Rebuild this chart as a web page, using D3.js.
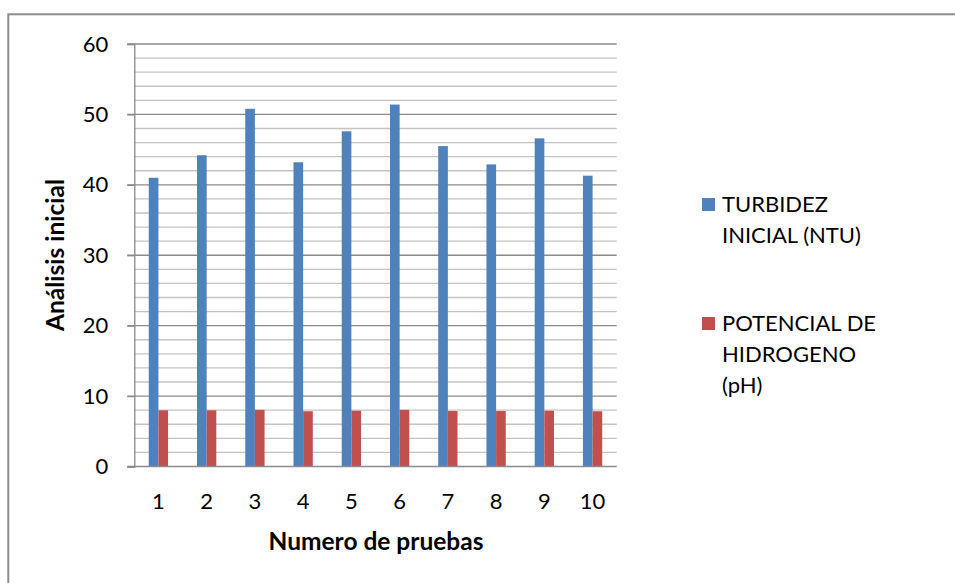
<!DOCTYPE html>
<html><head><meta charset="utf-8">
<script src="https://cdn.jsdelivr.net/npm/d3@7"></script>
<style>body{margin:0;background:#fff}svg{display:block;font-family:Lato,"Liberation Sans",sans-serif}</style>
</head><body>
<script>
const categories = ["1","2","3","4","5","6","7","8","9","10"];
const turbidez = [41.0, 44.2, 50.8, 43.2, 47.6, 51.4, 45.5, 42.9, 46.6, 41.3];
const ph = [7.98, 7.98, 8.05, 7.85, 7.92, 8.05, 7.88, 7.88, 7.92, 7.85];
const seriesNames = ["TURBIDEZ INICIAL (NTU)", "POTENCIAL DE HIDROGENO (pH)"];
const legendLines = [["TURBIDEZ","INICIAL (NTU)"],["POTENCIAL DE","HIDROGENO","(pH)"]];
const colors = ["#4F81BD", "#C0504D"];
const yTicks = [0,10,20,30,40,50,60];

(function(){
const W = 955, H = 583;
const FS = 22, TFS = 24.5;
const svg = d3.select("body").append("svg").attr("width", W).attr("height", H);

svg.append("rect").attr("x", 8.3).attr("y", 14.3).attr("width", 1000).attr("height", 1000)
  .attr("fill", "none").attr("stroke", "#8c8c8c").attr("stroke-width", 2);

const pLeft = 134.3, pRight = 616.7, pTop = 44, pBottom = 466.5;
const y = d3.scaleLinear().domain([0, 60]).range([pBottom, pTop]);
const x0 = d3.scaleBand().domain(categories).range([pLeft, pRight]).paddingInner(0.6).paddingOuter(0.3);
const x1 = d3.scaleBand().domain([0,1]).range([0, x0.bandwidth()]);

// minor gridlines
const minor = d3.range(2, 60, 2).filter(v => v % 10 !== 0);
svg.append("g").selectAll("line").data(minor).join("line")
  .attr("x1", pLeft).attr("x2", pRight).attr("y1", d => y(d)).attr("y2", d => y(d))
  .attr("stroke", "#c4c4c4").attr("stroke-width", 1.3);
// major gridlines
svg.append("g").selectAll("line").data(yTicks.filter(v => v > 0)).join("line")
  .attr("x1", pLeft - 7).attr("x2", pRight).attr("y1", d => y(d)).attr("y2", d => y(d))
  .attr("stroke", "#8a8a8a").attr("stroke-width", 1.3);

// y axis
const yAxis = d3.axisLeft(y).tickValues(yTicks).tickSize(7).tickPadding(19);
const gy = svg.append("g").attr("transform", `translate(${pLeft},0)`).call(yAxis);
gy.select(".domain").attr("stroke", "#8a8a8a").attr("stroke-width", 1.3);
gy.selectAll(".tick line").attr("stroke", "#8a8a8a").attr("stroke-width", 1.3);
gy.selectAll(".tick text").attr("font-size", FS).attr("fill", "#000").attr("font-family", "Lato");

// bars
const data = categories.map((c, i) => ({c, vals: [turbidez[i], ph[i]]}));
const groups = svg.append("g").selectAll("g").data(data).join("g")
  .attr("transform", d => `translate(${x0(d.c)},0)`);
groups.selectAll("rect").data(d => d.vals.map((v, k) => ({v, k}))).join("rect")
  .attr("x", d => x1(d.k)).attr("width", x1.bandwidth())
  .attr("y", d => y(d.v)).attr("height", d => y(0) - y(d.v))
  .attr("fill", d => colors[d.k]);

// x axis
const xAxis = d3.axisBottom(x0).tickSize(0).tickPadding(27);
const gx = svg.append("g").attr("transform", `translate(0,${pBottom})`).call(xAxis);
gx.select(".domain").attr("stroke", "#8a8a8a").attr("stroke-width", 1.3).attr("d", `M${pLeft-7},0H${pRight}`);
gx.selectAll(".tick text").attr("font-size", FS).attr("fill", "#000").attr("font-family", "Lato");

// axis titles
svg.append("text").attr("x", 376).attr("y", 550).attr("text-anchor", "middle")
  .attr("font-size", TFS).attr("font-weight", "bold").text("Numero de pruebas");
svg.append("text").attr("transform", "translate(64,255) rotate(-90)").attr("text-anchor", "middle")
  .attr("font-size", TFS).attr("font-weight", "bold").text("Análisis inicial");

// legend
const legendTop = [198, 317];
legendLines.forEach((lines, k) => {
  const g = svg.append("g");
  g.append("rect").attr("x", 702).attr("y", legendTop[k]).attr("width", 13).attr("height", 13).attr("fill", colors[k]);
  lines.forEach((t, j) => {
    g.append("text").attr("x", 722).attr("y", legendTop[k] + 14 + j * 31)
      .attr("font-size", FS).attr("fill", "#000").text(t);
  });
});
})();
</script>
</body></html>
